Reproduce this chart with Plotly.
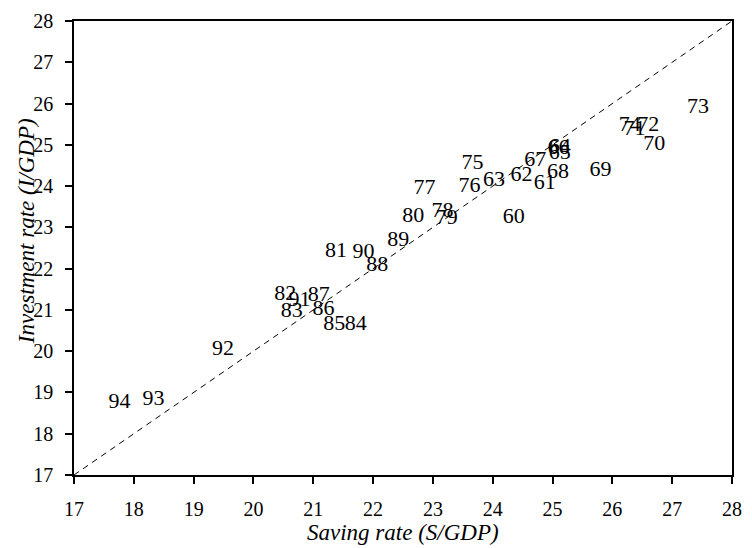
import plotly.graph_objects as go

years = ["60","61","62","63","64","65","66","67","68","69",
         "70","71","72","73","74","75","76","77","78","79",
         "80","81","82","83","84","85","86","87","88","89",
         "90","91","92","93","94"]
saving = [24.35, 24.87, 24.48, 24.02, 25.12, 25.12, 25.10, 24.71, 25.09, 25.80,
          26.70, 26.37, 26.60, 27.43, 26.29, 23.66, 23.61, 22.86, 23.16, 23.23,
          22.67, 21.38, 20.53, 20.64, 21.71, 21.35, 21.17, 21.09, 22.07, 22.42,
          21.84, 20.77, 19.49, 18.33, 17.76]
investment = [23.24, 24.06, 24.25, 24.13, 24.94, 24.80, 24.90, 24.61, 24.32, 24.37,
              25.01, 25.37, 25.47, 25.90, 25.47, 24.54, 23.99, 23.94, 23.39, 23.22,
              23.27, 22.41, 21.38, 20.95, 20.64, 20.64, 21.00, 21.35, 22.07, 22.69,
              22.38, 21.23, 20.05, 18.84, 18.75]
diag = [17, 28]
ticks = list(range(17, 29))

FONT = "Liberation Serif"

fig = go.Figure()
fig.add_trace(go.Scatter(x=diag, y=diag, mode="lines",
                         line=dict(color="black", width=1, dash="6px,5px"),
                         hoverinfo="skip", showlegend=False))
fig.add_trace(go.Scatter(x=saving, y=investment, mode="text", text=years,
                         textposition="middle center",
                         textfont=dict(family=FONT, size=22, color="black"),
                         showlegend=False))

axis_common = dict(range=[17, 28], tickvals=ticks, ticktext=[str(t) for t in ticks],
                   showgrid=False, zeroline=False, showline=True, linecolor="black",
                   linewidth=1.5, mirror=True, ticks="outside", ticklen=7,
                   tickcolor="black", tickwidth=1.5,
                   tickfont=dict(family=FONT, size=20, color="black"))

fig.update_layout(
    width=752, height=548,
    margin=dict(l=74, r=10, t=15, b=73),
    paper_bgcolor="white", plot_bgcolor="white",
    xaxis=dict(**axis_common, ticklabelstandoff=8),
    yaxis=dict(**axis_common, ticklabelstandoff=8),
    annotations=[
        dict(text="<i>Saving rate (S/GDP)</i>", xref="paper", yref="paper",
             x=0.5, y=-0.126, xanchor="center", yanchor="middle", showarrow=False,
             font=dict(family=FONT, size=23, color="black")),
        dict(text="<i>Investment rate (I/GDP)</i>", xref="paper", yref="paper",
             x=-0.073, y=0.537, xanchor="center", yanchor="middle", showarrow=False,
             textangle=-90, font=dict(family=FONT, size=23, color="black")),
    ],
)

fig.write_html("out.html")
